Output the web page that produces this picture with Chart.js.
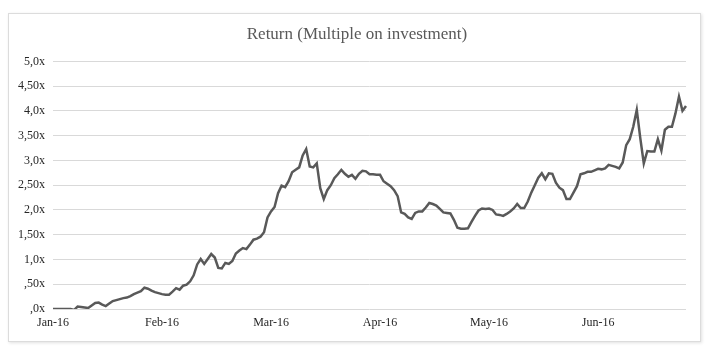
<!DOCTYPE html>
<html>
<head>
<meta charset="utf-8">
<script src="https://cdn.jsdelivr.net/npm/chart.js@4"></script>
<style>
  html, body { margin: 0; padding: 0; background: #ffffff; }
  #frame { position: absolute; left: 8px; top: 13px; width: 691px; height: 327px;
           border: 1px solid #dcdcdc; box-shadow: 1px 1px 3px rgba(0,0,0,0.12); background: #fff; }
  #c { position: absolute; left: 0; top: 0; }
</style>
</head>
<body>
<div id="frame"></div>
<canvas id="c" width="715" height="351"></canvas>
<script>
const titleText = 'Return (Multiple on investment)';
const monthLabels = ['Jan-16', 'Feb-16', 'Mar-16', 'Apr-16', 'May-16', 'Jun-16'];
const monthStep = 31;
const yTickLabels = [',0x', ',50x', '1,0x', '1,50x', '2,0x', '2,50x', '3,0x', '3,50x', '4,0x', '4,50x', '5,0x'];
const returnMultiple = [
  0, 0, 0, 0, 0, 0, -0.02, 0.05, 0.04, 0.03,
  0.02, 0.07, 0.12, 0.13, 0.09, 0.06, 0.11, 0.16, 0.18, 0.2,
  0.22, 0.23, 0.26, 0.3, 0.33, 0.36, 0.43, 0.41, 0.37, 0.34,
  0.32, 0.30, 0.29, 0.29, 0.35, 0.42, 0.39, 0.47, 0.49, 0.56,
  0.68, 0.9, 1.01, 0.91, 1.01, 1.11, 1.04, 0.83, 0.82, 0.93,
  0.91, 0.97, 1.12, 1.18, 1.23, 1.21, 1.3, 1.4, 1.42, 1.46,
  1.55, 1.85, 1.97, 2.06, 2.34, 2.49, 2.46, 2.58, 2.76, 2.81,
  2.86, 3.1, 3.23, 2.88, 2.86, 2.94, 2.44, 2.22, 2.4, 2.5,
  2.64, 2.72, 2.81, 2.73, 2.67, 2.71, 2.63, 2.73, 2.79, 2.78,
  2.72, 2.72, 2.71, 2.71, 2.58, 2.53, 2.48, 2.4, 2.28, 1.95,
  1.92, 1.85, 1.82, 1.94, 1.97, 1.97, 2.05, 2.14, 2.12, 2.09,
  2.02, 1.95, 1.94, 1.93, 1.8, 1.64, 1.62, 1.62, 1.63, 1.76,
  1.88, 1.99, 2.03, 2.02, 2.03, 2.0, 1.91, 1.9, 1.88, 1.92,
  1.97, 2.03, 2.12, 2.04, 2.04, 2.17, 2.35, 2.5, 2.65, 2.74,
  2.62, 2.74, 2.73, 2.55, 2.45, 2.4, 2.22, 2.22, 2.35, 2.48,
  2.72, 2.74, 2.77, 2.77, 2.8, 2.83, 2.82, 2.84, 2.91, 2.89,
  2.87, 2.84, 2.96, 3.31, 3.43, 3.68, 4.02, 3.45, 2.94, 3.19,
  3.18, 3.18, 3.43, 3.2, 3.62, 3.68, 3.68, 3.95, 4.29, 4.0,
  4.1
];
const categories = returnMultiple.map((v, i) => (i % monthStep === 0 ? (monthLabels[i / monthStep] || '') : ''));

const serif = '"Liberation Serif", "DejaVu Serif", serif';

new Chart(document.getElementById('c'), {
  type: 'line',
  data: {
    labels: categories,
    datasets: [{
      data: returnMultiple,
      borderColor: '#595959',
      borderWidth: 2.5,
      pointRadius: 0,
      tension: 0,
      fill: false,
      yAxisID: 'y'
    }]
  },
  options: {
    responsive: false,
    animation: false,
    devicePixelRatio: 1,
    layout: { padding: { top: 0, left: 14, right: 15, bottom: 0 } },
    plugins: {
      legend: { display: false },
      tooltip: { enabled: false },
      title: {
        display: true,
        text: titleText,
        color: '#595959',
        font: { family: serif, size: 17, weight: 'normal', lineHeight: 1.2 },
        padding: { top: 24, bottom: 17 }
      }
    },
    scales: {
      x: {
        type: 'category',
        offset: false,
        grid: { display: false, drawTicks: false },
        border: { display: false },
        ticks: {
          autoSkip: false, maxRotation: 0, minRotation: 0,
          padding: 7,
          color: '#262626',
          font: { family: serif, size: 12 }
        },
        afterFit: (s) => { s.height = 42; }
      },
      y: {
        min: 0, max: 5,
        grid: { color: '#d9d9d9', lineWidth: 1, drawTicks: false },
        border: { display: false },
        ticks: {
          stepSize: 0.5,
          padding: 8,
          color: '#262626',
          font: { family: serif, size: 12 },
          callback: (v) => yTickLabels[Math.round(v / 0.5)]
        },
        afterFit: (s) => { s.width = 39; }
      },
      spacer: {
        type: 'linear',
        position: 'right',
        display: true,
        min: 0, max: 5,
        grid: { display: false, drawTicks: false },
        border: { display: false },
        ticks: { display: false },
        afterFit: (s) => { s.width = 14; }
      }
    }
  }
});
</script>
</body>
</html>
